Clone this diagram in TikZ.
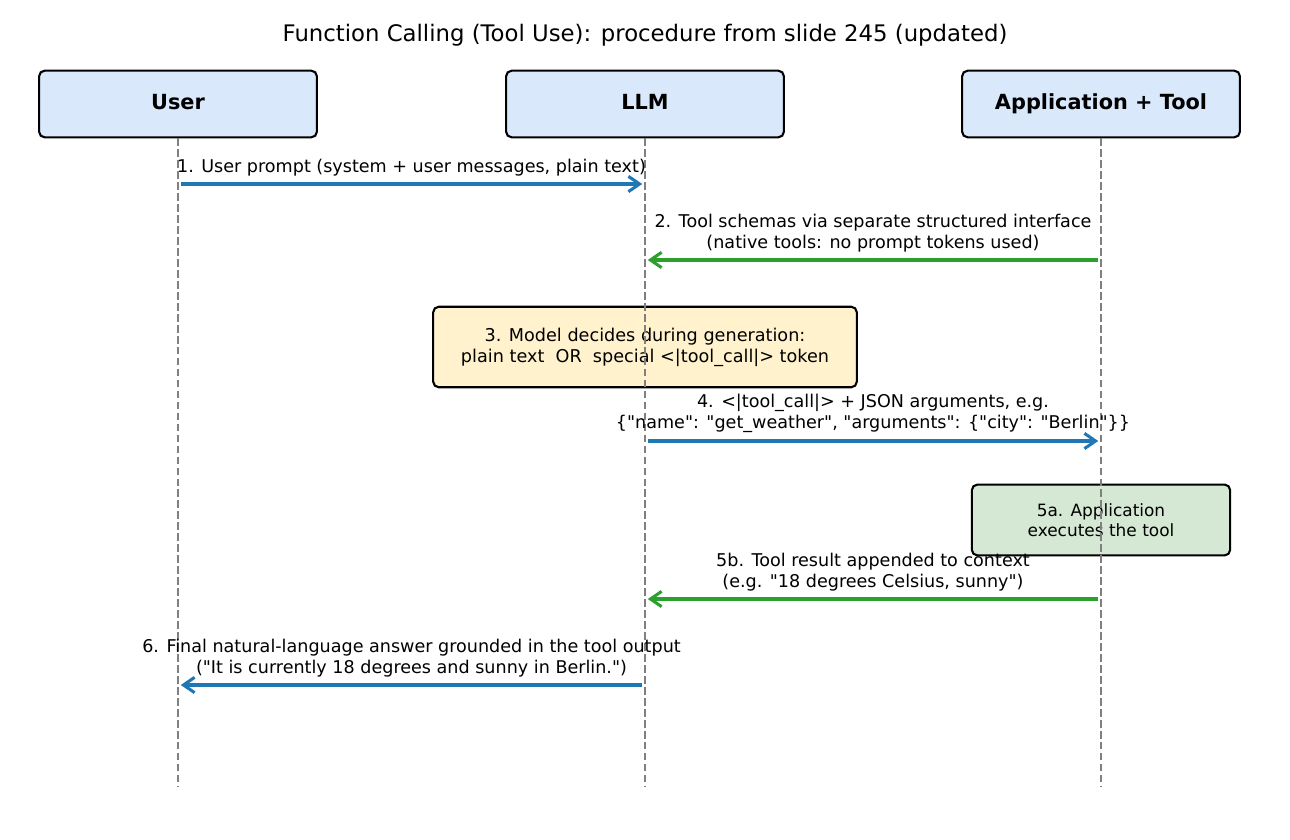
\documentclass[tikz,border=0pt]{standalone}
\usepackage{fontspec}
\setmainfont{DejaVu Sans}[Ligatures=TeXOff]
\usetikzlibrary{arrows.meta}
\definecolor{headfill}{RGB}{218,232,252}
\definecolor{notefill}{RGB}{255,242,204}
\definecolor{toolfill}{RGB}{213,232,212}
\definecolor{callblue}{RGB}{31,119,180}
\definecolor{replygreen}{RGB}{44,160,44}
\tikzset{
  actor/.style={draw, line width=1.5pt, rounded corners=4pt, fill=headfill,
    minimum width=200pt, minimum height=48pt, text height=0.9em, text depth=0.1em,
    font=\fontsize{15}{18}\selectfont\bfseries},
  note/.style={draw, line width=1.5pt, rounded corners=4pt, align=center,
    font=\fontsize{12.7}{15}\selectfont},
  lifeline/.style={draw=gray, line width=1.5pt, dash pattern=on 5.5pt off 2.4pt},
  msg/.style={line width=2.2pt, -{Straight Barb[length=8pt,width=11pt]},
    shorten <=2pt, shorten >=2pt},
  msglabel/.style={midway, above=1.5pt, align=center, font=\fontsize{12.65}{15}\selectfont}
}

\begin{document}
\begin{tikzpicture}[x=0.72pt, y=-0.72pt]
\useasboundingbox (0,0) rectangle (1290,840);
% title
\node (title) at (645,35) {\fontsize{16.4}{19.7}\selectfont Function Calling (Tool Use): procedure from slide 245 (updated)};
% draws participants
\node[actor] (user) at (178,104) {User};
\node[actor] (llm) at (645,104) {LLM};
\node[actor] (app) at (1101,104) {Application + Tool};
% notes on the lifelines
\node[note, fill=notefill, minimum width=305pt, minimum height=58pt] (decide) at (645,347)
  {3. Model decides during generation:\\plain text\ \ OR\ \ special <|tool\_call|> token};
\node[note, fill=toolfill, minimum width=186pt, minimum height=51pt,
  font=\fontsize{12.2}{14.6}\selectfont] (exec) at (1101,520)
  {5a. Application\\executes the tool};
% lifeline ends
\coordinate (uEnd) at (178,786);
\coordinate (lEnd) at (645,786);
\coordinate (aEnd) at (1101,786);
% draws lifelines
\draw[lifeline] (user.south) -- (uEnd);
\draw[lifeline] (llm.south) -- (lEnd);
\draw[lifeline] (app.south) -- (aEnd);
% message points
\coordinate (u1) at (178,184);
\coordinate (l1) at (645,184);
\coordinate (a2) at (1101,260);
\coordinate (l2) at (645,260);
\coordinate (l4) at (645,441);
\coordinate (a4) at (1101,441);
\coordinate (a5) at (1101,599);
\coordinate (l5) at (645,599);
\coordinate (l6) at (645,685);
\coordinate (u6) at (178,685);
% draws messages
\draw[msg, callblue] (u1) -- (l1)
  node[msglabel, text=black] {1. User prompt (system + user messages, plain text)};
\draw[msg, replygreen] (a2) -- (l2)
  node[msglabel, text=black] {2. Tool schemas via separate structured interface\\(native tools: no prompt tokens used)};
\draw[msg, callblue] (l4) -- (a4)
  node[msglabel, text=black] {4. <|tool\_call|> + JSON arguments, e.g.\\\{"name": "get\_weather", "arguments": \{"city": "Berlin"\}\}};
\draw[msg, replygreen] (a5) -- (l5)
  node[msglabel, text=black] {5b. Tool result appended to context\\(e.g. "18 degrees Celsius, sunny")};
\draw[msg, callblue] (l6) -- (u6)
  node[msglabel, text=black] {6. Final natural-language answer grounded in the tool output\\("It is currently 18 degrees and sunny in Berlin.")};
\end{tikzpicture}
\end{document}
